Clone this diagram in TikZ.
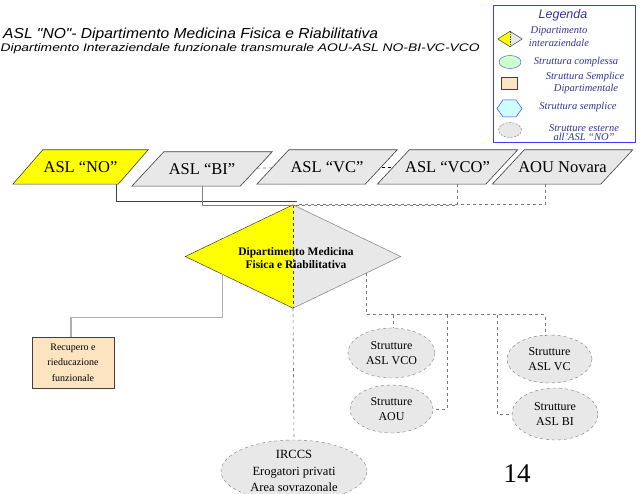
\documentclass[tikz,border=0pt]{standalone}
\usepackage{fontspec}
\setmainfont{Liberation Serif}
\newfontfamily\titlefont{Liberation Sans}
\usetikzlibrary{shapes.geometric,calc,backgrounds}
\definecolor{ylw}{RGB}{255,255,0}
\definecolor{lgray}{RGB}{232,232,232}
\definecolor{edge}{RGB}{64,64,64}
\definecolor{peach}{RGB}{252,228,192}
\definecolor{legblue}{RGB}{51,51,153}
\definecolor{legline}{RGB}{60,60,255}
\definecolor{lgreen}{RGB}{204,255,204}
\definecolor{lcyan}{RGB}{204,255,255}
\definecolor{dashgray}{RGB}{120,120,120}
\definecolor{lightline}{RGB}{175,175,175}
\begin{document}
\begin{tikzpicture}[x=1pt,y=-1pt,
  pgram/.style={rectangle, minimum width=140pt, minimum height=34pt,
    inner sep=0pt, font=\fontsize{16.5}{18}\selectfont},
  pshape/.style={draw=edge, line width=0.6pt, fill=lgray},
  ext/.style={ellipse, draw=dashgray, dashed, fill=lgray, inner sep=0pt,
    align=center, font=\fontsize{12}{15.5}\selectfont},
  conA/.style={draw=edge, line width=0.6pt},
  conB/.style={draw=gray, line width=0.6pt},
  dcon/.style={draw=dashgray, dashed, line width=0.6pt},
  leg/.style={text=legblue, font=\fontsize{10.5}{12.5}\selectfont\itshape,
    align=center, inner sep=0pt}
]
\useasboundingbox (0,0) rectangle (640,494);

% title
\node[anchor=base west, inner sep=0pt] (title1) at (3,38.5)
  {\resizebox{375pt}{10.5pt}{\titlefont\itshape ASL "NO"- Dipartimento Medicina Fisica e Riabilitativa}};
\node[anchor=base west, inner sep=0pt] (title2) at (0.5,52)
  {\resizebox{479pt}{8pt}{\titlefont\itshape Dipartimento Interaziendale funzionale transmurale AOU-ASL NO-BI-VC-VCO}};

% legend
\draw[legline, line width=0.8pt] (493,5) rectangle (635,142);
\node[text=legblue, inner sep=0pt, font=\titlefont\itshape\fontsize{12.5}{14}\selectfont] (legt) at (563,15) {Legenda};
\node[diamond, minimum width=24pt, minimum height=15pt, inner sep=0pt] (lg1) at (510,39) {};
\fill[ylw] (lg1.north) -- (lg1.west) -- (lg1.south) -- cycle;
\fill[lgray] (lg1.north) -- (lg1.east) -- (lg1.south) -- cycle;
\draw[edge, line width=0.5pt] (lg1.north) -- (lg1.west) -- (lg1.south) -- (lg1.east) -- cycle;
\draw[edge, dashed, dash pattern=on 1.5pt off 1pt, line width=0.4pt] (lg1.north) -- (lg1.south);
\node[ellipse, draw=legline, fill=lgreen, minimum width=22pt, minimum height=13pt, inner sep=0pt] (lg2) at (510,62) {};
\node[draw=edge, fill=peach, minimum width=16pt, minimum height=12pt, inner sep=0pt, line width=0.5pt] (lg3) at (509,83) {};
\draw[legline, fill=lcyan, line width=0.5pt] (497,108.5) -- (503,100) -- (516,100) -- (522,108.5) -- (516,117) -- (503,117) -- cycle;
\node[ellipse, draw=dashgray, dash pattern=on 2pt off 1.5pt, fill=lgray, minimum width=23pt, minimum height=15pt, inner sep=0pt] (lg5) at (510,130) {};
\node[leg] (lt1) at (559,36.5) {Dipartimento\\interaziendale};
\node[leg] (lt2) at (576,62) {Struttura complessa};
\node[leg, font=\fontsize{10.5}{12}\selectfont\itshape] (lt3) at (585,83) {Struttura Semplice\\\hspace*{2pt}Dipartimentale};
\node[leg] (lt4) at (578,107) {Struttura semplice};
\node[leg, font=\fontsize{10.5}{9}\selectfont\itshape] (lt5) at (584,133) {Strutture esterne\\all’ASL “NO”};

% top row (text nodes; outlines drawn on background layer)
\node[pgram, minimum width=135pt] (no) at (80.5,167) {ASL “NO”};
\node[pgram] (bi) at (202,169) {ASL “BI”};
\node[pgram] (vc) at (327,167) {ASL “VC”};
\node[pgram] (vco) at (447.5,167) {ASL “VCO”};
\node[pgram] (aou) at (562.5,167) {AOU Novara};

\begin{scope}[on background layer]
\fill[white] (0,0) rectangle (640,494);
\draw[dcon] (bi) -- (vc);
\draw[dcon, draw=black] (vc) -- (vco);
\draw[pshape, fill=ylw] ($(no.north west)+(30,0)$) -- (no.north east) -- ($(no.south east)+(-30,0)$) -- (no.south west) -- cycle;
\foreach \n in {bi,vc,vco,aou}
  \draw[pshape] ($(\n.north west)+(32,0)$) -- (\n.north east) -- ($(\n.south east)+(-32,0)$) -- (\n.south west) -- cycle;
\end{scope}

% department diamond
\node[diamond, minimum width=215pt, minimum height=103pt, inner sep=0pt] (dept) at (293,256.5) {};
\fill[ylw] (dept.north) -- (dept.west) -- (dept.south) -- cycle;
\fill[lgray] (dept.north) -- (dept.east) -- (dept.south) -- cycle;
\draw[edge, line width=0.5pt] (dept.north) -- (dept.west) -- (dept.south);
\draw[gray, line width=0.5pt] (dept.north) -- (dept.east) -- (dept.south);
\draw[edge, dashed, line width=0.6pt] (dept.north) -- (dept.south);
\node[align=center, inner sep=0pt, font=\bfseries\fontsize{11.5}{12.5}\selectfont] (deptlbl) at (296,258)
  {Dipartimento Medicina\\Fisica e Riabilitativa};

% connectors from top row
\draw[conA] ($(no.center)+(35.5,17)$) |- ($(dept.north)+(4,-3)$);
\draw[conB] ($(bi.center)+(0,17)$) |- ($(dept.north)+(4,1)$);
\draw[dcon] ($(vco.center)+(10,17)$) |- ($(dept.north)+(4,1)$);
\draw[dcon] ($(aou.center)+(-17,17)$) |- ($(dept.north)+(4,0)$);

% lower nodes
\node[draw=edge, fill=peach, minimum width=82pt, minimum height=51pt, align=center,
  inner sep=0pt, line width=0.6pt, font=\fontsize{10}{15.5}\selectfont] (rec) at (73,362.5)
  {Recupero e\\rieducazione\\funzionale};
\node[ext, minimum width=87pt, minimum height=50pt] (vcoS) at (391.5,353) {Strutture\\ASL VCO};
\node[ext, minimum width=83pt, minimum height=48pt] (aouS) at (391.5,409) {Strutture\\AOU};
\node[ext, minimum width=85pt, minimum height=48pt] (vcS) at (549.5,359) {Strutture\\ASL VC};
\node[ext, minimum width=86pt, minimum height=52pt] (biS) at (555,414) {Strutture\\ASL BI};
\node[ext, minimum width=146pt, minimum height=62pt, font=\fontsize{12.5}{16.5}\selectfont] (irccs) at (294,471)
  {IRCCS\\Erogatori privati\\Area sovrazonale};

% lower connectors
\draw[draw=lightline, line width=1.2pt] ($(dept.west)!0.3465!(dept.south)$) |- ($(rec.north)+(-2,-19)$) -- ($(rec.north)+(-2,0)$);
\draw[dcon] (dept.south) -- (irccs.north);
\draw[dcon] ($(dept.south)!0.684!(dept.east)$) |- ($(vcS.north)+(-4.5,-20)$) -- ($(vcS.north)+(-4.5,0)$);
\draw[dcon] ($(vcoS.north)+(1.5,-13)$) -- ($(vcoS.north)+(1.5,0)$);
\draw[dcon] ($(aouS.east)+(14,-94)$) |- (aouS.east);
\draw[dcon] ($(biS.west)+(-15,-99)$) |- (biS.west);

\node[font=\fontsize{27}{30}\selectfont, inner sep=0pt] (pgnum) at (517,474) {14};
\end{tikzpicture}
\end{document}
